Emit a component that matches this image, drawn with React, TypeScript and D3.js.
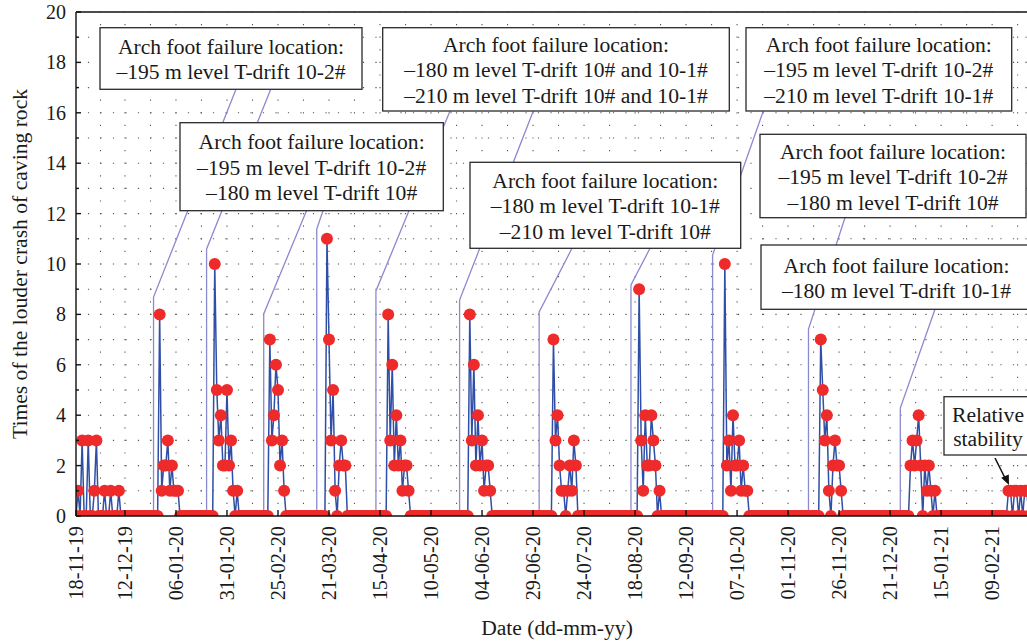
import React from "react";
import * as d3 from "d3";

// Daily record: every day is zero except inside the bursts listed below.
const SERIES_START = "2019-11-18";
const SERIES_END = "2021-03-02";

// Start date of each burst and the daily counts from that date on.
const burstStarts = [
  "2019-11-19", "2019-12-29", "2020-01-25", "2020-02-21", "2020-03-20",
  "2020-04-19", "2020-05-29", "2020-07-09", "2020-08-20", "2020-10-01",
  "2020-11-17", "2020-12-31", "2021-02-17",
];
const burst01 = [1, 0, 3, 0, 0, 3, 0, 0, 1, 3, 0, 0, 0, 1, 0, 0, 1, 0, 0, 0, 1];
const burst02 = [8, 1, 2, 2, 3, 1, 2, 1, 1, 1];
const burst03 = [10, 5, 3, 4, 2, 2, 5, 2, 3, 1, 0, 1];
const burst04 = [7, 3, 4, 6, 5, 2, 3, 1];
const burst05 = [11, 7, 3, 5, 1, 0, 2, 3, 2, 2];
const burst06 = [8, 3, 6, 2, 4, 2, 3, 1, 2, 2, 1];
const burst07 = [8, 3, 6, 2, 4, 2, 3, 1, 2, 2, 1];
const burst08 = [7, 3, 4, 2, 1, 1, 0, 1, 2, 1, 3, 2];
const burst09 = [9, 3, 1, 4, 2, 2, 4, 3, 2, 0, 1];
const burst10 = [10, 2, 3, 1, 4, 2, 2, 3, 1, 2, 1, 1];
const burst11 = [7, 5, 3, 4, 1, 0, 2, 3, 2, 2, 1];
const burst12 = [2, 3, 2, 3, 4, 2, 0, 2, 1, 2, 1, 0, 1];
const burst13 = [1, 1, 0, 1, 1, 0, 1, 0, 1, 1, 0, 1, 1, 0];
const burstValues = [
  burst01, burst02, burst03, burst04, burst05, burst06, burst07,
  burst08, burst09, burst10, burst11, burst12, burst13,
];

// Dates of the arch foot failures (vertical markers).
const failureDates = [
  "2019-12-26", "2020-01-21", "2020-02-18", "2020-03-15", "2020-04-13",
  "2020-05-24", "2020-07-02", "2020-08-16", "2020-09-25", "2020-11-11",
  "2020-12-26",
];

const tickLabels = [
  "18-11-19", "12-12-19", "06-01-20", "31-01-20", "25-02-20", "21-03-20",
  "15-04-20", "10-05-20", "04-06-20", "29-06-20", "24-07-20", "18-08-20",
  "12-09-20", "07-10-20", "01-11-20", "26-11-20", "21-12-20", "15-01-21",
  "09-02-21",
];
const yTicks = [0, 2, 4, 6, 8, 10, 12, 14, 16, 18, 20];

const W = 1027;
const H = 644;
const LEFT = 76;
const RIGHT = 1037;
const TOP = 12;
const BOTTOM = 516;

const FONT = "'Liberation Serif', 'Times New Roman', serif";
const LINE_BLUE = "#2f4ea6";
const DOT_RED = "#ee2a2a";
const LEADER = "#8c89cf";

const parseIso = d3.utcParse("%Y-%m-%d");
const parseTick = d3.utcParse("%d-%m-%y");

// Annotation boxes: [x0, y0, x1, y1] and their text.
const boxes = [
  { r: [100, 27.7, 362, 89.3], lines: ["Arch foot failure location:", "\u2013195 m level T-drift 10-2#"] },
  { r: [180, 122.7, 443.3, 210.7], lines: ["Arch foot failure location:", "\u2013195 m level T-drift 10-2#", "\u2013180 m level T-drift 10#"] },
  { r: [382.7, 27.7, 729.3, 111], lines: ["Arch foot failure location:", "\u2013180 m level T-drift 10# and 10-1#", "\u2013210 m level T-drift 10# and 10-1#"] },
  { r: [470, 162.3, 740.7, 248.3], lines: ["Arch foot failure location:", "\u2013180 m level T-drift 10-1#", "\u2013210 m level T-drift 10#"] },
  { r: [746, 27.7, 1011.7, 111], lines: ["Arch foot failure location:", "\u2013195 m level T-drift 10-2#", "\u2013210 m level T-drift 10-1#"] },
  { r: [760, 134.3, 1026, 217.7], lines: ["Arch foot failure location:", "\u2013195 m level T-drift 10-2#", "\u2013180 m level T-drift 10#"] },
  { r: [761, 245, 1032, 309.3], lines: ["Arch foot failure location:", "\u2013180 m level T-drift 10-1#"] },
];
const stabilityBox = { r: [944, 396.7, 1032, 455], lines: ["Relative", "stability"] };

// Leader for each failure date: where it leaves its box and where it turns vertical.
const leaders = [
  { from: [236, 89.3], bendY: 297 },
  { from: [270.7, 89.3], bendY: 249 },
  { from: [306.5, 210.7], bendY: 314 },
  { from: [323, 210.7], bendY: 229 },
  { from: [450, 111], bendY: 291 },
  { from: [533.3, 111], bendY: 300 },
  { from: [572, 248.3], bendY: 312 },
  { from: [650, 248.3], bendY: 285 },
  { from: [763.3, 111], bendY: 255 },
  { from: [845, 217.7], bendY: 329 },
  { from: [935, 309.3], bendY: 408 },
];

function buildSeries() {
  const start = parseIso(SERIES_START)!;
  const end = parseIso(SERIES_END)!;
  const days = d3.utcDay.range(start, d3.utcDay.offset(end, 1));
  const byDay = new Map<number, number>();
  burstStarts.forEach((s, i) => {
    const d0 = parseIso(s)!;
    burstValues[i].forEach((v, k) => byDay.set(+d3.utcDay.offset(d0, k), v));
  });
  return days.map((d) => ({ date: d, value: byDay.get(+d) ?? 0 }));
}

function Box({ r, lines, size, spacing }: { r: number[]; lines: string[]; size: number; spacing: number }) {
  const [x0, y0, x1, y1] = r;
  const cx = (x0 + x1) / 2;
  const firstCenter = (y0 + y1) / 2 - ((lines.length - 1) * spacing) / 2 + 1;
  return (
    <g>
      <rect x={x0} y={y0} width={x1 - x0} height={y1 - y0} fill="#fff" stroke="#2a2a2a" strokeWidth={1.3} />
      {lines.map((t, i) => (
        <text key={i} x={cx} y={firstCenter + i * spacing + size * 0.33} textAnchor="middle" fontSize={size} fontFamily={FONT} fill="#1a1a1a">
          {t}
        </text>
      ))}
    </g>
  );
}

export default function App() {
  const series = buildSeries();
  const x = d3.scaleUtc().domain([parseIso(SERIES_START)!, parseIso("2021-03-03")!]).range([LEFT, RIGHT]);
  const y = d3.scaleLinear().domain([0, 20]).range([BOTTOM, TOP]);

  const line = d3.line<{ date: Date; value: number }>().x((d) => x(d.date)).y((d) => y(d.value));

  const tickDates = tickLabels.map((t) => parseTick(t)!);
  const tickX = tickDates.map((d) => x(d));
  const gridX: number[] = [];
  tickX.forEach((tx, i) => {
    gridX.push(tx);
    const next = i < tickX.length - 1 ? tickX[i + 1] : tx + 51;
    gridX.push((tx + next) / 2);
  });

  const gridY = d3.range(1, 20);
  const minorY = d3.range(1, 20, 2);

  return (
    <div style={{ position: "absolute", left: 0, top: 0 }}>
      <svg width={W} height={H} style={{ display: "block", background: "#fff" }}>
        <defs>
          <clipPath id="plot">
            <rect x={LEFT} y={TOP} width={RIGHT - LEFT} height={BOTTOM - TOP} />
          </clipPath>
        </defs>

        {/* dotted grid */}
        <g stroke="#555" strokeWidth={1.1}>
          {gridY.map((v) => (
            <line key={"h" + v} x1={LEFT} x2={RIGHT} y1={y(v)} y2={y(v)} strokeDasharray="1.2 11.3" strokeDashoffset={-11.9} />
          ))}
          {gridX.filter((gx) => gx > LEFT + 2).map((gx, i) => (
            <line key={"v" + i} x1={gx} x2={gx} y1={BOTTOM} y2={TOP} strokeDasharray="1.2 11.4" strokeDashoffset={-12} />
          ))}
        </g>

        {/* failure markers and their leaders */}
        <g fill="none" stroke={LEADER} strokeWidth={1.3}>
          {failureDates.map((s, i) => {
            const fx = x(parseIso(s)!);
            const l = leaders[i];
            return <path key={s} d={`M${l.from[0]},${l.from[1]}L${fx},${l.bendY}L${fx},${BOTTOM}`} />;
          })}
        </g>

        {/* series */}
        <g clipPath="url(#plot)">
          <path d={line(series) ?? ""} fill="none" stroke={LINE_BLUE} strokeWidth={1.5} />
          {series.map((d, i) => (
            <circle key={i} cx={x(d.date)} cy={y(d.value)} r={6} fill={DOT_RED} />
          ))}
        </g>

        {/* frame */}
        <g stroke="#111" strokeWidth={1.4} fill="none">
          <line x1={LEFT} x2={RIGHT} y1={BOTTOM} y2={BOTTOM} />
          <line x1={LEFT} x2={RIGHT} y1={TOP} y2={TOP} />
          <line x1={LEFT} x2={LEFT} y1={TOP} y2={BOTTOM} />
          {yTicks.map((v) => (
            <line key={"yt" + v} x1={LEFT} x2={LEFT + 5} y1={y(v)} y2={y(v)} />
          ))}
          {minorY.map((v) => (
            <line key={"ym" + v} x1={LEFT} x2={LEFT + 3} y1={y(v)} y2={y(v)} />
          ))}
          {tickX.map((tx, i) => (
            <line key={"xt" + i} x1={tx} x2={tx} y1={BOTTOM} y2={BOTTOM - 6} />
          ))}
        </g>

        {/* y labels */}
        {yTicks.map((v) => (
          <text key={"yl" + v} x={66} y={y(v) + 7} textAnchor="end" fontSize={20} fontFamily={FONT} fill="#1a1a1a">
            {v}
          </text>
        ))}
        {/* x labels */}
        {tickLabels.map((t, i) => (
          <text key={"xl" + t} transform={`translate(${tickX[i] + 7},${526}) rotate(-90)`} textAnchor="end" fontSize={20.3} fontFamily={FONT} fill="#1a1a1a">
            {t}
          </text>
        ))}

        <text transform={`translate(27,${(TOP + BOTTOM) / 2}) rotate(-90)`} textAnchor="middle" fontSize={21.6} fontFamily={FONT} fill="#1a1a1a">
          Times of the louder crash of caving rock
        </text>
        <text x={557} y={635} textAnchor="middle" fontSize={21.6} fontFamily={FONT} fill="#1a1a1a">
          Date (dd-mm-yy)
        </text>

        {/* annotation boxes */}
        {boxes.map((b, i) => (
          <Box key={i} r={b.r} lines={b.lines} size={21.6} spacing={25.5} />
        ))}
        <Box r={stabilityBox.r} lines={stabilityBox.lines} size={21.6} spacing={23.5} />

        {/* arrow to the quiet period */}
        <line x1={995} y1={458} x2={1005.5} y2={479} stroke="#111" strokeWidth={1.5} />
        <path d="M1009,485 L1001.2,477.8 L1008.8,474.4 Z" fill="#111" />
      </svg>
    </div>
  );
}
